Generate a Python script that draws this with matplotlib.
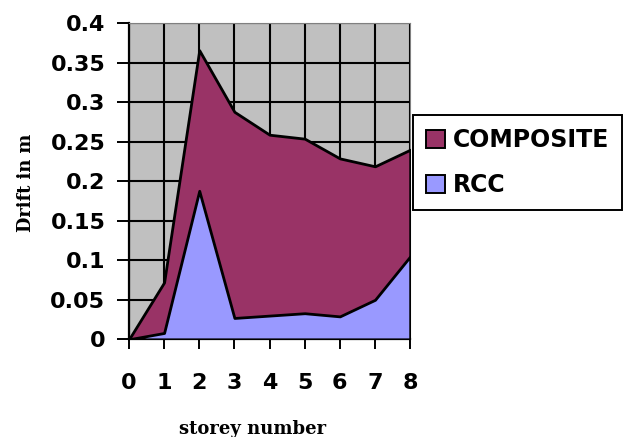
import matplotlib
matplotlib.use('Agg')
import matplotlib.pyplot as plt
import numpy as np

# data
storeys = [0, 1, 2, 3, 4, 5, 6, 7, 8]
composite = [0, 0.072, 0.366, 0.288, 0.259, 0.254, 0.229, 0.219, 0.240]
rcc = [0, 0.008, 0.188, 0.027, 0.030, 0.033, 0.029, 0.050, 0.105]
yticks = [0, 0.05, 0.1, 0.15, 0.2, 0.25, 0.3, 0.35, 0.4]
ytick_labels = ['0', '0.05', '0.1', '0.15', '0.2', '0.25', '0.3', '0.35', '0.4']

COMP_COLOR = '#993366'
RCC_COLOR = '#9999FF'
BG = '#C0C0C0'

fig = plt.figure(figsize=(6.32, 4.37), dpi=100)
ax = fig.add_axes([0.204, 0.2236, 0.445, 0.723])
ax.set_facecolor(BG)

ax.fill_between(storeys, 0, composite, facecolor=COMP_COLOR, edgecolor='black',
                linewidth=2.0, label='COMPOSITE', zorder=3)
ax.fill_between(storeys, 0, rcc, facecolor=RCC_COLOR, edgecolor='black',
                linewidth=2.0, label='RCC', zorder=4)

ax.set_xlim(0, 8)
ax.set_ylim(0, 0.4)
ax.set_xticks(storeys)
ax.set_yticks(yticks)
ax.set_yticklabels(ytick_labels)

ax.grid(True, color='black', linewidth=1.5, zorder=1)
ax.set_axisbelow(True)

for lab in ax.get_xticklabels() + ax.get_yticklabels():
    lab.set_fontsize(16)
    lab.set_fontweight('bold')
ax.tick_params(axis='y', length=9, width=1.4, pad=8, direction='out')
ax.tick_params(axis='x', length=7, width=1.4, pad=17, direction='out')

ax.spines['left'].set_linewidth(1.6)
ax.spines['bottom'].set_linewidth(1.6)
ax.spines['top'].set_color('#808080')
ax.spines['right'].set_color('#808080')

ax.set_ylabel('Drift in m', family='DejaVu Serif', fontweight='bold', fontsize=12.8)
ax.set_xlabel('storey number', family='DejaVu Serif', fontweight='bold', fontsize=13)
ax.yaxis.set_label_coords(-0.335, 0.495)
ax.xaxis.set_label_coords(0.44, -0.255)

# legend: COMPOSITE first
handles, labels = ax.get_legend_handles_labels()
leg = fig.legend(handles, labels, loc='upper left', bbox_to_anchor=(0.653, 0.737),
                 prop={'weight': 'bold', 'size': 17}, frameon=True, fancybox=False,
                 edgecolor='black', framealpha=1, handlelength=0.8, handleheight=0.8,
                 handletextpad=0.35, labelspacing=0.9, borderpad=0.55, borderaxespad=0)
leg.get_frame().set_linewidth(1.4)
for h in leg.legend_handles:
    h.set_linewidth(1.4)
leg.set_zorder(10)

fig.savefig('out.png', dpi=100, facecolor='white')
